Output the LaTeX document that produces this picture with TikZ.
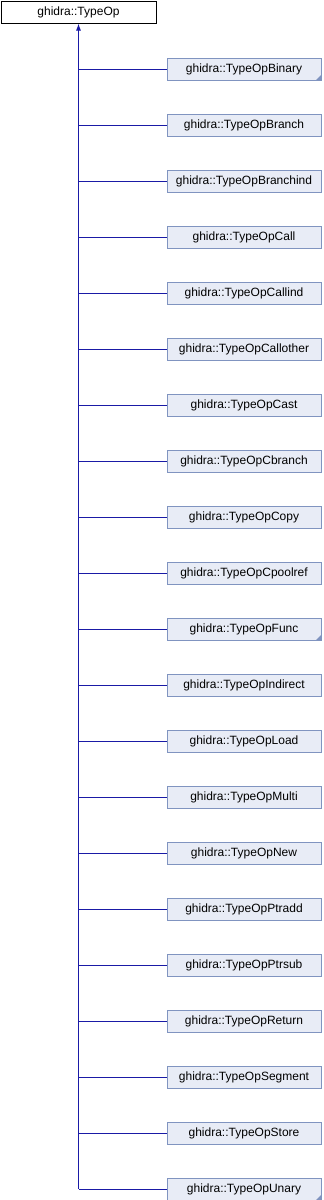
\documentclass[tikz,border=0pt]{standalone}
\usepackage{fontspec}
\setmainfont{Liberation Sans}
\usetikzlibrary{arrows.meta}

\definecolor{edgeblue}{HTML}{1A1AA6}
\definecolor{boxfill}{HTML}{E8ECF6}
\definecolor{boxline}{HTML}{8094C0}

\tikzset{
  classbox/.style={minimum height=22pt, inner sep=0pt, line width=1pt,
    font=\fontsize{12}{14}\selectfont},
  baseclass/.style={classbox, draw=black, fill=white, minimum width=155pt},
  subclass/.style={classbox, draw=boxline, fill=boxfill, minimum width=154pt},
  inherit/.style={edgeblue, line width=1pt},
  foldmark/.style={fill=boxline}
}

\begin{document}
\begin{tikzpicture}[x=1pt,y=-1pt]
\useasboundingbox (0,0) rectangle (324,1200);

\node[baseclass] (typeop) at (78.5,12) {ghidra::TypeOp};

\foreach \cls/\fold [count=\k from 0] in {Binary/1,Branch/0,Branchind/0,Call/0,
    Callind/0,Callother/0,Cast/0,Cbranch/0,Copy/0,Cpoolref/0,Func/1,Indirect/0,
    Load/0,Multi/0,New/0,Ptradd/0,Ptrsub/0,Return/0,Segment/0,Store/0,Unary/1} {
  \node[subclass] (op\k) at (244,69+56*\k) {ghidra::TypeOp\cls};
  \ifnum\fold=1
    \fill[foldmark] (op\k.south east) -- ++(-6pt,0pt) -- ++(6pt,6pt) -- cycle;
  \fi
  \draw[inherit] (op\k.west) -- (op\k.west -| typeop.south);
}

% trunk up to the base class
\coordinate (trunk) at (op20.west -| typeop.south);
\draw[inherit, -{Latex[length=7pt,width=5pt]}] (trunk) -- (typeop.south);
\end{tikzpicture}
\end{document}
